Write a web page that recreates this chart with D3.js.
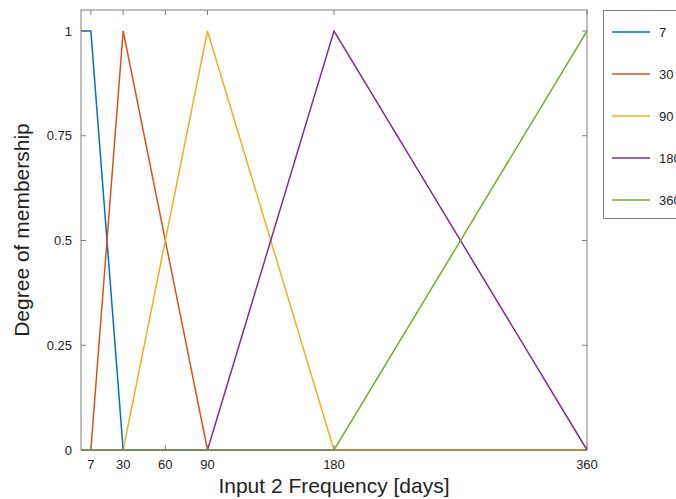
<!DOCTYPE html>
<html><head><meta charset="utf-8">
<script src="https://cdn.jsdelivr.net/npm/d3@7"></script>
<style>body{margin:0;background:#fff;}text{font-family:"Liberation Sans",Arial,sans-serif;}</style>
</head><body>
<svg id="c" width="676" height="499"></svg>
<script>
const seriesNames = ["7","30","90","180","360"];
const colors = ["#0072BD","#D95319","#EDB120","#7E2F8E","#77AC30"];
const s7   = [[0,1],[7,1],[30,0],[360,0]];
const s30  = [[0,0],[7,0],[30,1],[90,0],[360,0]];
const s90  = [[0,0],[30,0],[90,1],[180,0],[360,0]];
const s180 = [[0,0],[90,0],[180,1],[360,0]];
const s360 = [[0,0],[180,0],[360,1]];
const seriesData = [s7,s30,s90,s180,s360];
const xTicks = [7,30,60,90,180,360];
const yTicks = [0,0.25,0.5,0.75,1];
const yTickLabels = ["0","0.25","0.5","0.75","1"];

const svg = d3.select("#c");
const L=81,R=587,T=10,B=450;
const x = d3.scaleLinear().domain([0,360]).range([L,R]);
const y1 = d3.scaleLinear().domain([0,1]).range([B,31]);

const g = svg.append("g");
const line = d3.line().x(d=>x(d[0])).y(d=>y1(d[1]));
seriesData.forEach((s,i)=>{
  g.append("path").attr("d",line(s)).attr("fill","none").attr("stroke",colors[i]).attr("stroke-width",1.5);
});
g.append("rect").attr("x",L).attr("y",T).attr("width",R-L).attr("height",B-T).attr("fill","none").attr("stroke","#7f7f7f").attr("stroke-width",1);
xTicks.forEach(t=>{
  g.append("line").attr("x1",x(t)).attr("x2",x(t)).attr("y1",B).attr("y2",B-5).attr("stroke","#7f7f7f");
  g.append("line").attr("x1",x(t)).attr("x2",x(t)).attr("y1",T).attr("y2",T+5).attr("stroke","#7f7f7f");
  g.append("text").attr("x",x(t)).attr("y",469).attr("text-anchor","middle").attr("font-size",13).attr("fill","#222").text(t);
});
yTicks.forEach((t,i)=>{
  g.append("line").attr("x1",L).attr("x2",L+5).attr("y1",y1(t)).attr("y2",y1(t)).attr("stroke","#7f7f7f");
  g.append("line").attr("x1",R).attr("x2",R-5).attr("y1",y1(t)).attr("y2",y1(t)).attr("stroke","#7f7f7f");
  g.append("text").attr("x",72).attr("y",y1(t)+4.5).attr("text-anchor","end").attr("font-size",13).attr("fill","#222").text(yTickLabels[i]);
});
g.append("text").attr("x",334).attr("y",493).attr("text-anchor","middle").attr("font-size",21).attr("fill","#222").text("Input 2 Frequency [days]");
g.append("text").attr("transform","translate(29,230) rotate(-90)").attr("text-anchor","middle").attr("font-size",21).attr("fill","#222").text("Degree of membership");
const lg = svg.append("g");
lg.append("rect").attr("x",603.5).attr("y",10.5).attr("width",100).attr("height",208).attr("fill","#fff").attr("stroke","#7f7f7f");
seriesNames.forEach((n,i)=>{
  const yy = 32 + i*42;
  lg.append("line").attr("x1",612).attr("x2",650).attr("y1",yy).attr("y2",yy).attr("stroke",colors[i]).attr("stroke-width",1.5);
  lg.append("text").attr("x",659).attr("y",yy+4.5).attr("font-size",13).attr("fill","#222").text(n);
});
</script>
</body></html>
